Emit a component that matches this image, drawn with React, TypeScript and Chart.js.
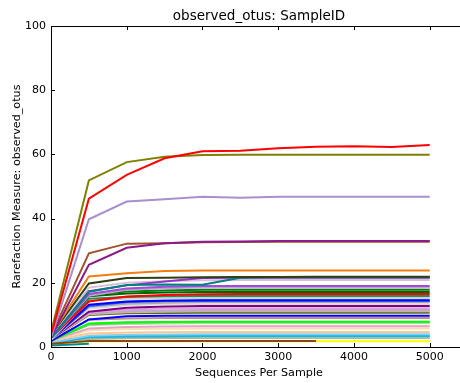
import React, { useEffect, useRef } from "react";
import { Chart, registerables } from "chart.js";

Chart.register(...registerables);

const depths = [10, 500, 1000, 1500, 2000, 2500, 3000, 3500, 4000, 4500, 5000];
const xTicks = [0, 1000, 2000, 3000, 4000, 5000];
const yTicks = [0, 20, 40, 60, 80, 100];

const sRed1 = [4.5, 46.2, 53.6, 58.8, 61.0, 61.1, 61.9, 62.4, 62.5, 62.3, 62.9];
const sOlive = [5.5, 51.9, 57.6, 59.3, 59.8, 59.9, 59.9, 59.9, 59.9, 59.9, 59.9];
const sLavender1 = [3.5, 39.8, 45.3, 46.0, 46.8, 46.5, 46.8, 46.8, 46.8, 46.8, 46.8];
const sSienna = [4, 29.2, 32.2, 32.3, 32.6, 32.7, 32.8, 32.8, 32.8, 32.8, 32.8];
const sPurple1 = [3.5, 25.6, 30.9, 32.3, 32.8, 32.9, 33.0, 33.0, 33.0, 33.0, 33.0];
const sOrange = [4, 22.0, 23.0, 23.7, 23.8, 23.8, 23.8, 23.8, 23.8, 23.8, 23.8];
const sDarkOlive1 = [4, 19.8, 21.5, 21.6, 21.7, 21.8, 21.8, 21.9, 21.9, 21.9, 21.9];
const sTeal1 = [3, 17.2, 19.3, 19.5, 19.4, 21.6, 21.7, 21.7, 21.7, 21.7, 21.7];
const sOrchid = [3, 17.4, 19.2, 20.4, 21.5, 21.6, 21.6, 21.6, 21.6, 21.6, 21.6];
const sThistle = [3, 18.5, 20.0, 20.5, 20.8, 20.9, 20.9, 20.9, 20.9, 20.9, 20.9];
const sMedPurple = [3, 16.5, 18.2, 18.8, 19.0, 19.0, 19.0, 19.0, 19.0, 19.0, 19.0];
const sLavender2 = [3, 16.0, 17.8, 18.3, 18.5, 18.5, 18.5, 18.5, 18.5, 18.5, 18.5];
const sGreen = [3, 16.3, 17.3, 17.6, 17.8, 17.8, 17.8, 17.8, 17.8, 17.8, 17.8];
const sDarkGreen = [3, 15.8, 16.7, 17.0, 17.1, 17.1, 17.1, 17.1, 17.1, 17.1, 17.1];
const sRed2 = [3, 14.2, 15.7, 16.2, 16.4, 16.5, 16.5, 16.5, 16.5, 16.5, 16.5];
const sSeaGreen = [3, 15.0, 15.6, 15.8, 15.9, 15.9, 15.9, 15.9, 15.9, 15.9, 15.9];
const sLightGray = [2.5, 14.5, 15.0, 15.2, 15.3, 15.3, 15.3, 15.3, 15.3, 15.3, 15.3];
const sBlue1 = [2.5, 13.2, 14.2, 14.5, 14.6, 14.6, 14.6, 14.6, 14.6, 14.6, 14.6];
const sBlue2 = [2.5, 12.8, 14.0, 14.3, 14.4, 14.4, 14.4, 14.4, 14.4, 14.4, 14.4];
const sDarkGray = [2.5, 12.5, 13.5, 13.8, 14.0, 14.0, 14.0, 14.0, 14.0, 14.0, 14.0];
const sGainsboro = [2.5, 12.0, 13.0, 13.3, 13.4, 13.4, 13.4, 13.4, 13.4, 13.4, 13.4];
const sPurple2 = [2.5, 11.0, 12.2, 12.6, 12.8, 12.8, 12.8, 12.8, 12.8, 12.8, 12.8];
const sPlum = [2.5, 10.8, 11.7, 12.0, 12.1, 12.1, 12.1, 12.1, 12.1, 12.1, 12.1];
const sLavender3 = [2.5, 10.5, 11.2, 11.4, 11.5, 11.5, 11.5, 11.5, 11.5, 11.5, 11.5];
const sTan = [2.5, 10.2, 10.8, 11.0, 11.1, 11.1, 11.1, 11.1, 11.1, 11.1, 11.1];
const sDarkOlive2 = [2.5, 10.0, 10.5, 10.6, 10.7, 10.7, 10.7, 10.7, 10.7, 10.7, 10.7];
const sBlue3 = [2, 8.6, 9.6, 9.7, 9.7, 9.7, 9.7, 9.7, 9.7, 9.7, 9.7];
const sRosyBrown = [2, 8.5, 8.9, 9.0, 9.0, 9.0, 9.0, 9.0, 9.0, 9.0, 9.0];
const sLime = [2, 7.3, 7.7, 7.8, 7.9, 7.9, 7.9, 7.9, 7.9, 7.9, 7.9];
const sSage = [2, 7.0, 7.5, 7.7, 7.8, 7.8, 7.8, 7.8, 7.8, 7.8, 7.8];
const sLightGreen = [2, 6.8, 7.2, 7.3, 7.4, 7.4, 7.4, 7.4, 7.4, 7.4, 7.4];
const sPink = [2, 5.8, 6.2, 6.4, 6.5, 6.5, 6.5, 6.5, 6.5, 6.5, 6.5];
const sWheat = [2, 5.2, 5.6, 5.7, 5.8, 5.8, 5.8, 5.8, 5.8, 5.8, 5.8];
const sPeach = [2, 4.2, 4.5, 4.6, 4.7, 4.7, 4.7, 4.7, 4.7, 4.7, 4.7];
const sSkyBlue = [1.5, 3.5, 3.8, 3.9, 4.0, 4.0, 4.0, 4.0, 4.0, 4.0, 4.0];
const sCadet = [1.5, 3.0, 3.2, 3.3, 3.4, 3.4, 3.4, 3.4, 3.4, 3.4, 3.4];
const sSeaGreen2 = [1.5, 2.5, 2.7, 2.8, 2.8, 2.8, 2.8, 2.8, 2.8, 2.8, 2.8];
const sBrown = [1, 1.9, 1.9, 1.9, 1.9, 1.9, 1.9, 1.9];
const sYellow = [1, 1.8, 1.8, 1.8, 1.8, 1.8, 1.8, 1.8, 1.8, 1.8, 1.8];
const sTeal2 = [0.5, 1.0];
const sDeepSky = [1, 3.2, 3.4, 3.5, 3.5, 3.5, 3.5, 3.5, 3.5, 3.5, 3.5];

const seriesList: [number[], string][] = [
  [sBrown, "#8b4513"],
  [sTeal2, "#008b8b"],
  [sRed1, "#ff0000"],
  [sOlive, "#808000"],
  [sLavender1, "#a890d0"],
  [sPurple1, "#8b1a8b"],
  [sSienna, "#a0522d"],
  [sOrange, "#f07f10"],
  [sDarkOlive1, "#2f3f14"],
  [sTeal1, "#008080"],
  [sOrchid, "#9932cc"],
  [sThistle, "#d8bfd8"],
  [sMedPurple, "#9b4fd6"],
  [sLavender2, "#c8a0d8"],
  [sGreen, "#008000"],
  [sDarkGreen, "#006400"],
  [sRed2, "#ff0000"],
  [sSeaGreen, "#2e8b57"],
  [sLightGray, "#d3d3d3"],
  [sBlue1, "#0000ff"],
  [sBlue2, "#2050ff"],
  [sDarkGray, "#a9a9a9"],
  [sGainsboro, "#dcdcdc"],
  [sPurple2, "#800080"],
  [sPlum, "#dda0dd"],
  [sLavender3, "#b8a8d8"],
  [sTan, "#d2b48c"],
  [sDarkOlive2, "#556b2f"],
  [sBlue3, "#0000ff"],
  [sRosyBrown, "#bc8f8f"],
  [sLime, "#00ff00"],
  [sSage, "#8fbc8f"],
  [sLightGreen, "#b0e0a0"],
  [sPink, "#e8a0c8"],
  [sWheat, "#f5deb3"],
  [sPeach, "#ffc890"],
  [sSkyBlue, "#87ceeb"],
  [sDeepSky, "#00bfff"],
  [sCadet, "#5f9ea0"],
  [sSeaGreen2, "#a0c0a0"],
  [sYellow, "#ffff00"],
];

const FONT = "'DejaVu Sans', sans-serif";

const framePlugin = {
  id: "frame",
  afterDatasetsDraw(chart: any) {
    const { ctx, chartArea } = chart;
    const { left, right, top, bottom } = chartArea;
    const xs = chart.scales.x;
    const ys = chart.scales.y;
    ctx.save();
    ctx.strokeStyle = "#000";
    ctx.lineWidth = 1;
    ctx.beginPath();
    ctx.moveTo(left + 0.5, top + 0.5);
    ctx.lineTo(right + 0.5, top + 0.5);
    ctx.moveTo(left + 0.5, top);
    ctx.lineTo(left + 0.5, bottom + 1);
    ctx.moveTo(left, bottom + 0.5);
    ctx.lineTo(right, bottom + 0.5);
    ctx.stroke();
    ctx.beginPath();
    for (const v of xTicks) {
      const px = Math.round(xs.getPixelForValue(v)) + 0.5;
      ctx.moveTo(px, bottom);
      ctx.lineTo(px, bottom - 4);
      ctx.moveTo(px, top);
      ctx.lineTo(px, top + 4);
    }
    for (const v of yTicks) {
      const py = Math.round(ys.getPixelForValue(v)) + 0.5;
      ctx.moveTo(left, py);
      ctx.lineTo(left + 4, py);
    }
    ctx.stroke();
    ctx.restore();
  },
  afterDraw(chart: any) {
    const { ctx, chartArea } = chart;
    ctx.save();
    ctx.fillStyle = "#000";
    ctx.textAlign = "center";
    ctx.textBaseline = "middle";
    ctx.font = `13.5px ${FONT}`;
    ctx.fillText("observed_otus: SampleID", 259, 16);
    ctx.font = `11.2px ${FONT}`;
    ctx.fillText("Sequences Per Sample", 259, 373);
    ctx.translate(17, (chartArea.top + chartArea.bottom) / 2);
    ctx.rotate(-Math.PI / 2);
    ctx.fillText("Rarefaction Measure: observed_otus", 0, 0);
    ctx.restore();
  },
};

export default function App() {
  const ref = useRef<HTMLCanvasElement | null>(null);
  useEffect(() => {
    if (!ref.current) return;
    const datasets = seriesList.map(([vals, color]) => ({
      data: vals.map((v, i) => ({ x: depths[i], y: v })),
      borderColor: color,
      backgroundColor: color,
      borderWidth: 2,
      pointRadius: 0,
      tension: 0,
      fill: false,
    }));
    const chart = new Chart(ref.current, {
      type: "line",
      data: { datasets },
      plugins: [framePlugin],
      options: {
        animation: false,
        responsive: false,
        layout: { padding: { top: 26, left: 0, right: 0, bottom: 0 } },
        plugins: { legend: { display: false }, tooltip: { enabled: false }, title: { display: false } },
        scales: {
          x: {
            type: "linear",
            min: 0,
            max: 5400,
            grid: { display: false, drawTicks: false },
            border: { display: false },
            afterBuildTicks: (s: any) => {
              s.ticks = xTicks.map((v) => ({ value: v }));
            },
            afterFit: (s: any) => {
              s.height = 36;
            },
            ticks: {
              padding: 4,
              color: "#000",
              font: { family: FONT, size: 11 },
              maxRotation: 0,
              callback: (v: any) => String(v),
            },
          },
          y: {
            type: "linear",
            min: 0,
            max: 100,
            grid: { display: false, drawTicks: false },
            border: { display: false },
            afterBuildTicks: (s: any) => {
              s.ticks = yTicks.map((v) => ({ value: v }));
            },
            afterFit: (s: any) => {
              s.width = 51;
            },
            ticks: { padding: 5, color: "#000", font: { family: FONT, size: 11 }, callback: (v: any) => String(v) },
          },
        },
      } as any,
    });
    return () => chart.destroy();
  }, []);
  return (
    <div style={{ position: "fixed", left: 0, top: 0, width: 460, height: 383, background: "#fff" }}>
      <canvas ref={ref} width={460} height={383} style={{ width: 460, height: 383 }} />
    </div>
  );
}
